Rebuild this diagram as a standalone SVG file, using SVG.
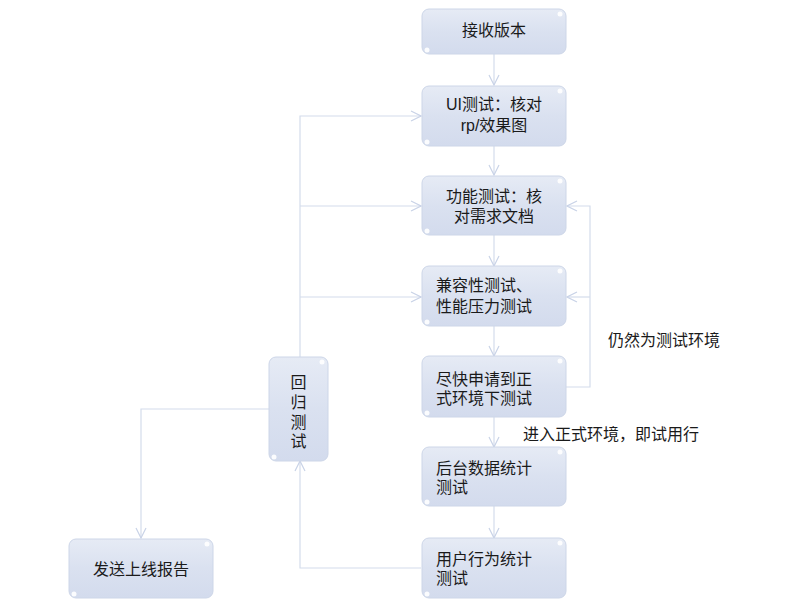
<svg xmlns="http://www.w3.org/2000/svg" width="789" height="605" viewBox="0 0 789 605">
<style>
.node rect.box{fill:url(#g);stroke:#cdd6e8;stroke-width:1}
.node text,.lbl{font-family:"Liberation Sans","Noto Sans CJK SC",sans-serif;font-size:16px;fill:#1a1a1a}
.c{text-anchor:middle}
.conn path{fill:none;stroke:#d4dcec;stroke-width:1.2}
.dot{fill:#ffffff;opacity:0.9}
</style>
<defs>
<linearGradient id="g" x1="0" y1="0" x2="0" y2="1">
<stop offset="0" stop-color="#e6ebf5"/>
<stop offset="0.5" stop-color="#dae1f0"/>
<stop offset="1" stop-color="#d3dbed"/>
</linearGradient>
<marker id="a" viewBox="0 0 12 12" refX="11" refY="6" markerWidth="12" markerHeight="12" markerUnits="userSpaceOnUse" orient="auto">
<path d="M1,1 L11,6 L1,11" fill="none" stroke="#c9d3e7" stroke-width="1.2"/>
</marker>
</defs>
<rect width="789" height="605" fill="#ffffff"/>
<g class="conn">
<path d="M494,54 V85" marker-end="url(#a)"/>
<path d="M494,146 V175" marker-end="url(#a)"/>
<path d="M494,235 V266" marker-end="url(#a)"/>
<path d="M494,326 V356" marker-end="url(#a)"/>
<path d="M494,417 V447" marker-end="url(#a)"/>
<path d="M494,506 V538" marker-end="url(#a)"/>
<path d="M300,357 V116 H421" marker-end="url(#a)"/>
<path d="M300,206 H421" marker-end="url(#a)"/>
<path d="M300,297 H421" marker-end="url(#a)"/>
<path d="M269,409 H141 V538" marker-end="url(#a)"/>
<path d="M421,568 H300 V461" marker-end="url(#a)"/>
<path d="M566,387 H590 V206 H567" marker-end="url(#a)"/>
<path d="M590,297 H567" marker-end="url(#a)"/>
</g>
<g id="n1" class="node"><rect class="box" x="422" y="9" width="144" height="45" rx="7"/><circle class="dot" cx="560" cy="14" r="2.5"/><circle class="dot" cx="427" cy="50" r="2.5"/><text class="c" x="494" y="35.5">接收版本</text></g>
<g id="n2" class="node"><rect class="box" x="422" y="86" width="144" height="60" rx="7"/><circle class="dot" cx="560" cy="91" r="2.5"/><circle class="dot" cx="427" cy="142" r="2.5"/><text class="c" x="494" y="110">UI测试：核对</text><text class="c" x="494" y="131">rp/效果图</text></g>
<g id="n3" class="node"><rect class="box" x="422" y="176" width="144" height="59" rx="7"/><circle class="dot" cx="560" cy="181" r="2.5"/><circle class="dot" cx="427" cy="231" r="2.5"/><text class="c" x="494" y="202">功能测试：核</text><text class="c" x="494" y="222">对需求文档</text></g>
<g id="n4" class="node"><rect class="box" x="422" y="266" width="144" height="60" rx="7"/><circle class="dot" cx="560" cy="271" r="2.5"/><circle class="dot" cx="427" cy="322" r="2.5"/><text x="436" y="291">兼容性测试、</text><text x="436" y="312">性能压力测试</text></g>
<g id="n5" class="node"><rect class="box" x="422" y="356" width="144" height="61" rx="7"/><circle class="dot" cx="560" cy="361" r="2.5"/><circle class="dot" cx="427" cy="413" r="2.5"/><text x="436" y="385">尽快申请到正</text><text x="436" y="404">式环境下测试</text></g>
<g id="n6" class="node"><rect class="box" x="422" y="447" width="144" height="59" rx="7"/><circle class="dot" cx="560" cy="452" r="2.5"/><circle class="dot" cx="427" cy="502" r="2.5"/><text x="436" y="474">后台数据统计</text><text x="436" y="493">测试</text></g>
<g id="n7" class="node"><rect class="box" x="422" y="538" width="144" height="60" rx="7"/><circle class="dot" cx="560" cy="543" r="2.5"/><circle class="dot" cx="427" cy="594" r="2.5"/><text x="436" y="565">用户行为统计</text><text x="436" y="584">测试</text></g>
<g id="n8" class="node"><rect class="box" x="269" y="357" width="59" height="104" rx="7"/><circle class="dot" cx="322" cy="362" r="2.5"/><circle class="dot" cx="274" cy="457" r="2.5"/><text class="c" x="298.5" y="388">回</text><text class="c" x="298.5" y="408">归</text><text class="c" x="298.5" y="428">测</text><text class="c" x="298.5" y="447">试</text></g>
<g id="n9" class="node"><rect class="box" x="69" y="539" width="144" height="59" rx="7"/><circle class="dot" cx="207" cy="544" r="2.5"/><circle class="dot" cx="74" cy="594" r="2.5"/><text class="c" x="141" y="575">发送上线报告</text></g>
<text class="lbl" x="608" y="346">仍然为测试环境</text>
<text class="lbl" x="523" y="440">进入正式环境，即试用行</text>
</svg>
